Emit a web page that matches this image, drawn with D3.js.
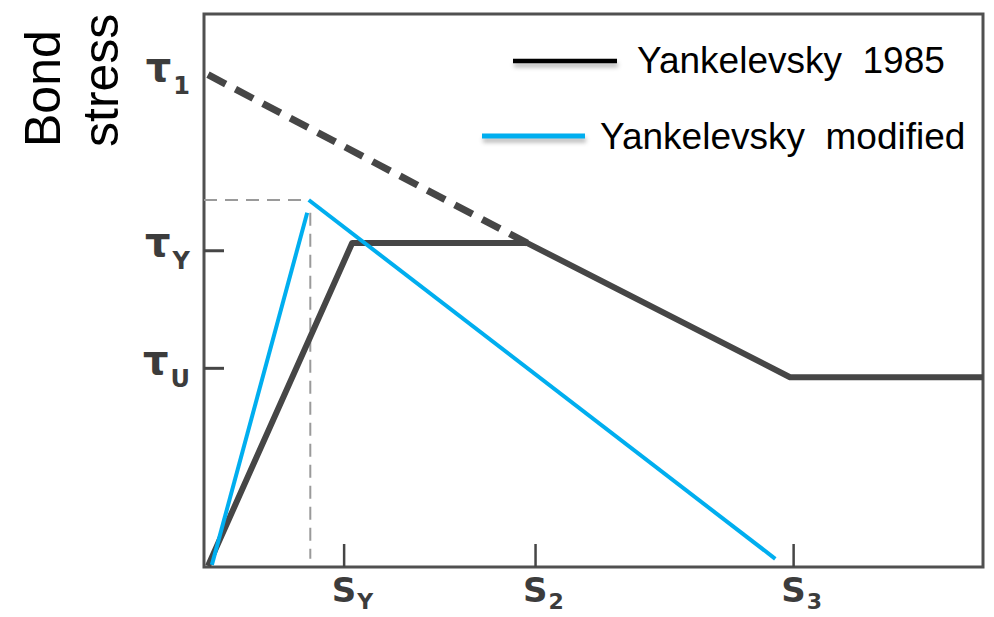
<!DOCTYPE html>
<html>
<head>
<meta charset="utf-8">
<script src="https://cdn.jsdelivr.net/npm/d3@7"></script>
<style>
  html, body { margin: 0; padding: 0; background: #fff; }
  svg { display: block; }
  text { white-space: pre; }
</style>
</head>
<body>
<svg id="chart" width="994" height="617"></svg>
<script>
// Bond stress vs slip: original model and modified model (normalised units 0-100)
const yankelevsky1985 = [
  { s: 0.0, t: 0.0 },
  { s: 18.6, t: 58.5 },
  { s: 41.2, t: 58.5 },
  { s: 75.1, t: 34.2 },
  { s: 100.0, t: 34.2 }
];
// dashed extension from tau1 down to the end of the plateau
const tau1Branch = [
  { s: 0.0, t: 89.0 },
  { s: 41.2, t: 58.5 }
];
// modified model: ascending and descending branches
const modifiedAscending = [
  { s: 0.5, t: 0.2 },
  { s: 12.8, t: 64.0 }
];
const modifiedDescending = [
  { s: 13.0, t: 66.3 },
  { s: 73.2, t: 1.3 }
];
// guide lines to the peak of the modified model
const peakStress = 66.3;
const peakSlip = 13.2;
const peakGuideBottom = 1.3;
const peakGuideTop = 64.0;

// axis ticks
const stressTicks = [89.0, 57.2, 35.9];
const stressTickLabels = [["τ", "1"], ["τ", "Y"], ["τ", "U"]];
const stressTickMarks = [false, true, true];
const slipTicks = [17.5, 42.2, 75.5];
const slipTickLabels = [["S", "Y"], ["S", "2"], ["S", "3"]];

const legendLabels = ["Yankelevsky  1985", "Yankelevsky  modified"];
const axisTitle = ["Bond", "stress"];

const svg = d3.select("#chart");
const frame = { left: 204, right: 983, top: 14, bottom: 567 };
const x = d3.scaleLinear().domain([0, 100]).range([208, 983]);
const y = d3.scaleLinear().domain([0, 100]).range([566, 14]);

const ink = "#464646";
const blue = "#00AEEF";

const defs = svg.append("defs");
const blur = defs.append("filter").attr("id", "softShadow")
  .attr("filterUnits", "userSpaceOnUse")
  .attr("x", 0).attr("y", 0).attr("width", 994).attr("height", 617);
blur.append("feGaussianBlur").attr("stdDeviation", 2);

const line = d3.line().x(d => x(d.s)).y(d => y(d.t));

// frame
svg.append("rect")
  .attr("x", frame.left).attr("y", frame.top)
  .attr("width", frame.right - frame.left).attr("height", frame.bottom - frame.top)
  .attr("fill", "none").attr("stroke", "#505050").attr("stroke-width", 3);

// stress axis ticks (pointing inward)
const yAxis = d3.axisLeft(y)
  .tickValues(stressTicks.filter((d, i) => stressTickMarks[i]))
  .tickSizeInner(-20).tickSizeOuter(0).tickFormat("");
const gy = svg.append("g").attr("transform", `translate(${frame.left},0)`).call(yAxis);
gy.select(".domain").remove();
gy.selectAll(".tick line").attr("stroke", ink).attr("stroke-width", 3);

// slip axis ticks (pointing inward)
const xAxis = d3.axisBottom(x).tickValues(slipTicks)
  .tickSizeInner(-23).tickSizeOuter(0).tickFormat("");
const gx = svg.append("g").attr("transform", `translate(0,${frame.bottom})`).call(xAxis);
gx.select(".domain").remove();
gx.selectAll(".tick line").attr("stroke", ink).attr("stroke-width", 2.5);

// stress tick labels with subscripts
stressTicks.forEach((v, i) => {
  const t = svg.append("text")
    .attr("x", 190).attr("y", y(v) + 6)
    .attr("text-anchor", "end")
    .attr("font-family", "DejaVu Sans").attr("font-weight", "bold")
    .attr("fill", "#3c3c3c");
  t.append("tspan").attr("font-size", 40).text(stressTickLabels[i][0]);
  t.append("tspan").attr("font-size", 24).attr("dy", 13).attr("dx", 2).text(stressTickLabels[i][1]);
});

// slip tick labels with subscripts
slipTicks.forEach((v, i) => {
  const t = svg.append("text")
    .attr("x", x(v) - 12).attr("y", 602)
    .attr("font-family", "DejaVu Sans").attr("font-weight", "bold")
    .attr("fill", "#3c3c3c");
  t.append("tspan").attr("font-size", 34).text(slipTickLabels[i][0]);
  t.append("tspan").attr("font-size", 22).attr("dy", 7).attr("dx", 1).text(slipTickLabels[i][1]);
});

// guides to the modified peak
svg.append("line")
  .attr("x1", frame.left).attr("x2", x(peakSlip) - 2)
  .attr("y1", y(peakStress)).attr("y2", y(peakStress))
  .attr("stroke", "#9a9a9a").attr("stroke-width", 2).attr("stroke-dasharray", "13,8");
svg.append("line")
  .attr("x1", x(peakSlip)).attr("x2", x(peakSlip))
  .attr("y1", y(peakGuideTop)).attr("y2", y(peakGuideBottom))
  .attr("stroke", "#9a9a9a").attr("stroke-width", 2).attr("stroke-dasharray", "13,8");

// original model
svg.append("path").datum(tau1Branch)
  .attr("d", line).attr("fill", "none")
  .attr("stroke", ink).attr("stroke-width", 7).attr("stroke-dasharray", "20,11");
svg.append("path").datum(yankelevsky1985)
  .attr("d", line).attr("fill", "none")
  .attr("stroke", ink).attr("stroke-width", 6).attr("stroke-linejoin", "round");

// modified model
[modifiedAscending, modifiedDescending].forEach(seg => {
  svg.append("path").datum(seg)
    .attr("d", line).attr("fill", "none")
    .attr("stroke", blue).attr("stroke-width", 4);
});

// legend
const legend = [
  { color: "#000", x1: 513, x2: 617, y: 61, tx: 637, ty: 73, w: 4.5 },
  { color: blue, x1: 482, x2: 585, y: 136, tx: 600, ty: 149, w: 5 }
];
legend.forEach((d, i) => {
  svg.append("line")
    .attr("x1", d.x1 + 1).attr("x2", d.x2 + 1).attr("y1", d.y + 4).attr("y2", d.y + 4)
    .attr("stroke", "#000").attr("stroke-opacity", 0.28).attr("stroke-width", d.w)
    .attr("filter", "url(#softShadow)");
  svg.append("line")
    .attr("x1", d.x1).attr("x2", d.x2).attr("y1", d.y).attr("y2", d.y)
    .attr("stroke", d.color).attr("stroke-width", d.w);
  svg.append("text")
    .attr("x", d.tx).attr("y", d.ty)
    .attr("font-family", "Liberation Sans, Arial, sans-serif")
    .attr("font-size", 37).attr("fill", "#000")
    .text(legendLabels[i]);
});

// axis title, two rotated lines
[[60, axisTitle[0]], [118, axisTitle[1]]].forEach(([bx, txt]) => {
  svg.append("text")
    .attr("transform", `translate(${bx},147) rotate(-90)`)
    .attr("font-family", "Liberation Sans, Arial, sans-serif")
    .attr("font-size", 50).attr("fill", "#000")
    .text(txt);
});
</script>
</body>
</html>
